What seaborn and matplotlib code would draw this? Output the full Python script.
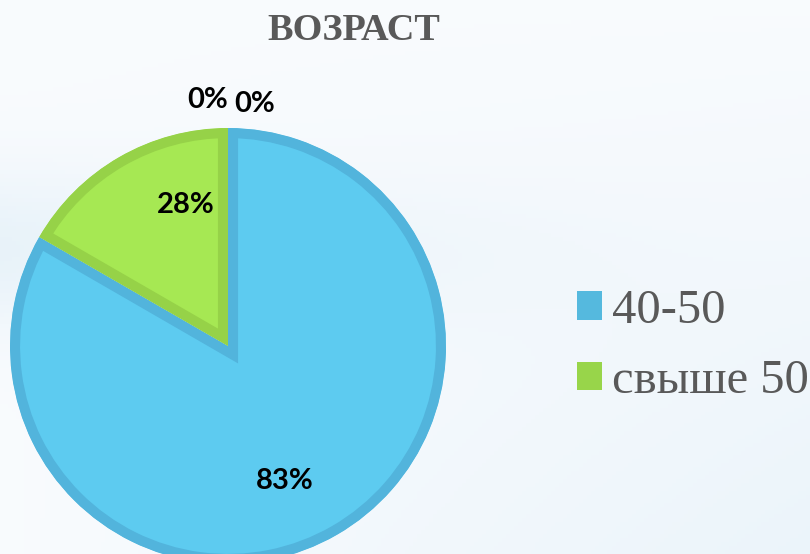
import matplotlib
matplotlib.use('Agg')
import matplotlib.pyplot as plt
import matplotlib.patches as mpatches
import numpy as np
import seaborn as sns

# data ---------------------------------------------------------------
categories = ['40-50', 'свыше 50']
values = [5, 1]
pct_labels = ['83%', '28%']
zero_labels = ['0%', '0%']

sns.set_theme(style='white')
plt.rcParams['font.family'] = ['Liberation Serif', 'DejaVu Serif']

fill = sns.color_palette(['#5DCBF0', '#A6E853'])
edge = sns.color_palette(['#52B4DC', '#96D248'])
legend_col = sns.color_palette(['#55B9DE', '#98D54A'])

fig = plt.figure(figsize=(8.1, 5.54), dpi=100)

# background gradient
bg = fig.add_axes([0, 0, 1, 1], zorder=-10)
gx = np.linspace(0, 1, 200)
gy = np.linspace(0, 1, 140)
X, Y = np.meshgrid(gx, gy)
shade = 0.55 * np.exp(-((Y - 0.45) ** 2) / 0.02) * (1 - X) ** 1.5 + 0.45 * X * Y
c0 = np.array([0.975, 0.985, 0.995])
c1 = np.array([0.86, 0.925, 0.965])
img = c0 + (c1 - c0) * np.clip(shade, 0, 1)[..., None]
bg.imshow(img, extent=[0, 1, 0, 1], aspect='auto', origin='upper')
bg.axis('off')

# pie -----------------------------------------------------------------
ax = fig.add_axes([10 / 810, -10 / 554, 436 / 810, 436 / 554])
lbl_font = dict(family='Lato', fontweight='bold', fontsize=21, color='black')
wedges, texts = ax.pie(values, colors=fill, startangle=90, counterclock=False,
                       radius=1.0, labels=pct_labels, labeldistance=0.66,
                       wedgeprops=dict(edgecolor='none'), textprops=lbl_font)
for w, ec in zip(wedges, edge):
    w.set_edgecolor(ec)
    w.set_linewidth(14.5)
    w.set_joinstyle('miter')
    w.set_clip_on(True)
    w.set_clip_path(w)  # stroke only inside the wedge

# label tweaks to match reference placement
for t in texts:
    t.set_ha('center')
    t.set_va('center')
texts[0].set_position((0.26, -0.62))
texts[1].set_position((-0.195, 0.645))
ax.text(-0.095, 1.13, zero_labels[0], ha='center', va='center', **lbl_font)
ax.text(0.12, 1.11, zero_labels[1], ha='center', va='center', **lbl_font)
ax.set_xlim(-1, 1)
ax.set_ylim(-1, 1)
ax.set_aspect('equal')
ax.axis('off')

# title ---------------------------------------------------------------
fig.text(354 / 810, 1 - 31 / 554, 'ВОЗРАСТ', ha='center', va='center',
         fontsize=27.5, fontweight='bold', color='#595959')

# legend --------------------------------------------------------------
handles = [mpatches.Patch(facecolor=c, edgecolor='none') for c in legend_col]
fig.legend(handles, categories, loc='center left',
           bbox_to_anchor=(577 / 810, 1 - 346 / 554), frameon=False,
           fontsize=35, labelcolor='#595959', handlelength=0.52,
           handleheight=0.52, handletextpad=0.2, labelspacing=0.55,
           borderpad=0, borderaxespad=0)

fig.savefig('out.png', dpi=100)
